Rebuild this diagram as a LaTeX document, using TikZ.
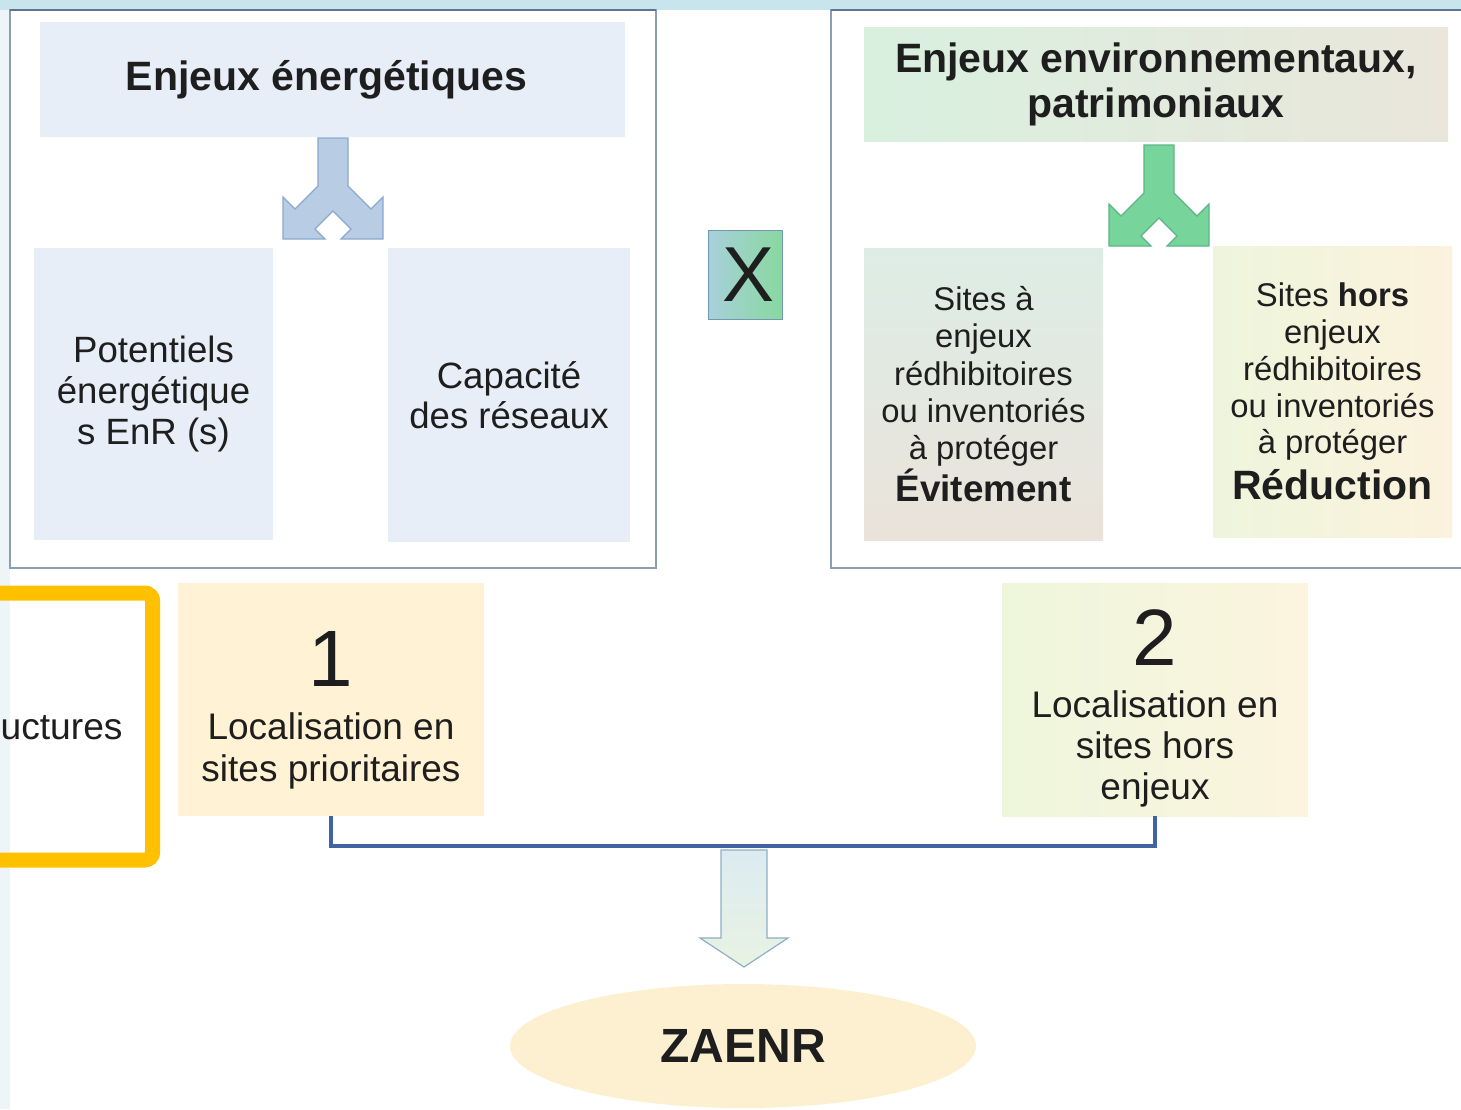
\documentclass[tikz,border=0pt]{standalone}
\usepackage{fontspec}
\setmainfont{Liberation Sans}
\usetikzlibrary{shapes.geometric}
\definecolor{txtC}{HTML}{1E1E1E}
\definecolor{frameC}{HTML}{8C9DB8}
\definecolor{frameTopC}{HTML}{5F7396}
\definecolor{bandC}{HTML}{C8E4EC}
\definecolor{stripC}{HTML}{EEF5F8}
\definecolor{blueL}{HTML}{E8EEF8}
\definecolor{arrowB}{HTML}{B8CCE4}
\definecolor{arrowBd}{HTML}{8AA8D0}
\definecolor{arrowG}{HTML}{77D49B}
\definecolor{arrowGd}{HTML}{5EB585}
\definecolor{linkC}{HTML}{4262A2}
\definecolor{orangeC}{HTML}{FFC000}
\definecolor{creamC}{HTML}{FFF2D5}
\definecolor{ovalC}{HTML}{FCF0D0}
\definecolor{patL}{HTML}{D9F0DF}
\definecolor{patR}{HTML}{EAE6DB}
\definecolor{evitT}{HTML}{DDEDE6}
\definecolor{evitB}{HTML}{EAE3DA}
\definecolor{redL}{HTML}{EEF5DC}
\definecolor{redR}{HTML}{FCF2DD}
\definecolor{foisL}{HTML}{A8D0DA}
\definecolor{foisR}{HTML}{88D8A0}
\definecolor{foisD}{HTML}{7098B0}
\definecolor{locL}{HTML}{EEF6DC}
\definecolor{locR}{HTML}{FCF4DE}
\definecolor{downT}{HTML}{DCEBF1}
\definecolor{downB}{HTML}{E8F3E2}
\definecolor{downD}{HTML}{8EAFC6}
\begin{document}
\begin{tikzpicture}[x=0.5pt,y=-0.5pt,box/.style={inner sep=0,align=center,text=txtC},frame/.style={draw=frameC,line width=0.8pt},link/.style={draw=linkC,line width=2pt},splitarrow/.pic={\draw[pic actions,line width=0.6pt] (-15,0) -- (-15,48) -- (-38,71) -- (-50,59) -- (-50,101) -- (-8,101) -- (-18,91) -- (0,73) -- (18,91) -- (8,101) -- (50,101) -- (50,59) -- (38,71) -- (15,48) -- (15,0) -- cycle;}]
\useasboundingbox (0,0) rectangle (1461,1109);
\clip (0,0) rectangle (1461,1109);
\fill[bandC] (0,0) rectangle (1461,10);
\fill[stripC] (0,10) rectangle (10,1109);
\draw[frame] (10,10) rectangle (656,568);
\draw[frame] (831,10) rectangle (1475,568);
\draw[frameTopC,line width=1pt] (10,10) -- (656,10) (831,10) -- (1461,10);
\node[box,fill=blueL,minimum width=292.5pt,minimum height=57.5pt,font=\bfseries\fontsize{20.5}{22.5}\selectfont] (enjE) at (332.5,79.5) {Enjeux énergétiques\hspace*{6pt}};
\node[box,left color=patL,right color=patR,minimum width=292pt,minimum height=57pt,font=\bfseries\fontsize{20.5}{22.5}\selectfont] (enjP) at (1156,84) {Enjeux environnementaux,\\patrimoniaux};
\pic[fill=arrowB,draw=arrowBd] at (333,138) {splitarrow};
\pic[fill=arrowG,draw=arrowGd] at (1159,145) {splitarrow};
\node[box,fill=blueL,minimum width=119.5pt,minimum height=146pt,font=\fontsize{18.3}{20.5}\selectfont] (pot) at (153.5,394) {Potentiels\\énergétique\\s EnR (s)};
\node[box,fill=blueL,minimum width=121pt,minimum height=147pt,font=\fontsize{18.3}{20}\selectfont] (cap) at (509,395) {Capacité\\des réseaux};
\node[box,top color=evitT,bottom color=evitB,minimum width=119.5pt,minimum height=146pt,font=\fontsize{16.4}{18.7}\selectfont] (evit) at (983.5,394) {Sites à\\enjeux\\rédhibitoires\\ou inventoriés\\à protéger\\{\bfseries\fontsize{18.4}{19}\selectfont Évitement}};
\node[box,left color=redL,right color=redR,minimum width=119.5pt,minimum height=145.5pt,font=\fontsize{16.4}{18.4}\selectfont] (reduc) at (1332.5,391.5) {Sites {\bfseries hors}\\enjeux\\rédhibitoires\\ou inventoriés\\à protéger\\[3.5pt]{\bfseries\fontsize{20.5}{21}\selectfont Réduction}};
\node[box,left color=foisL,right color=foisR,draw=foisD,line width=0.5pt,minimum width=37pt,minimum height=44.5pt,font=\fontsize{39}{39}\selectfont] (fois) at (745,274.5) {\hspace*{4pt}X};
\draw[orangeC,line width=7.5pt,rounded corners=4pt] (-20,593) -- (152.7,593) -- (152.7,860) -- (-20,860);
\node[box,anchor=mid east,font=\fontsize{18.6}{21}\selectfont] (infra) at (123,734) {uctures};
\node[box,fill=creamC,minimum width=153pt,minimum height=116.5pt] (loc1) at (331,699.5) {};
\node[box,font=\fontsize{18.5}{21}\selectfont] (loc1t) at ([yshift=-5.25pt]loc1.center) {{\fontsize{40}{40}\selectfont 1}\\[5.5pt]Localisation en\\sites prioritaires};
\node[box,left color=locL,right color=locR,minimum width=153pt,minimum height=116.5pt] (loc2) at (1155,699.5) {};
\node[box,font=\fontsize{18.5}{20.5}\selectfont] (loc2t) at ([yshift=-4.4pt]loc2.center) {{\fontsize{40}{40}\selectfont 2}\\[5.75pt]Localisation en\\sites hors\\enjeux};
\draw[top color=downT,bottom color=downB,draw=downD,line width=0.6pt] (721,850) -- (721,938) -- (700,938) -- (744,967) -- (788,938) -- (767,938) -- (767,850) -- cycle;
\draw[link] (loc1.south) -- ++(0,30) -| (loc2.south);
\node[box,ellipse,fill=ovalC,minimum width=233pt,minimum height=62pt,font=\bfseries\fontsize{24}{26}\selectfont] (zaenr) at (743,1046) {ZAENR};
\end{tikzpicture}
\end{document}
